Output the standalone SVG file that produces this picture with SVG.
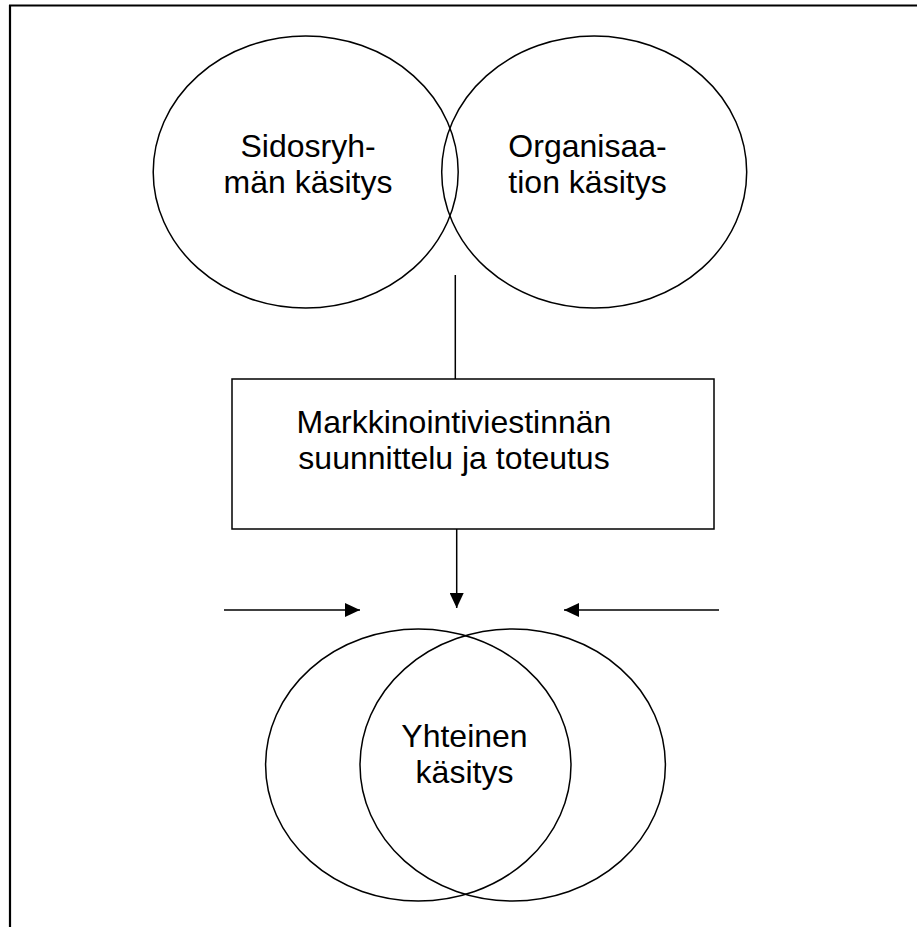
<svg xmlns="http://www.w3.org/2000/svg" width="917" height="927" viewBox="0 0 917 927">
<style>
.s{fill:none;stroke:#000;stroke-width:1.5}
.t{font-family:"Liberation Sans",Arial,sans-serif;font-size:32px;fill:#000;text-anchor:middle}
.c{stroke:#000;stroke-width:1.5;fill:none}
</style>
<defs>
<marker id="ah" markerWidth="15" markerHeight="14" refX="15" refY="7" orient="auto" markerUnits="userSpaceOnUse">
<path d="M0,0 L15,7 L0,14 Z" fill="#000"/>
</marker>
</defs>
<rect width="917" height="927" fill="#fff"/>
<g id="frame">
<path d="M9,5.5 H917 M10,5 V927" stroke="#000" stroke-width="2.2" fill="none"/>
</g>
<g id="sidosryhma">
<ellipse class="s" cx="305.7" cy="172" rx="152.5" ry="136"/>
<text class="t" x="308" y="156.5">Sidosryh-</text>
<text class="t" x="308" y="192.5">män käsitys</text>
</g>
<g id="organisaatio">
<ellipse class="s" cx="594.2" cy="172" rx="152.5" ry="136"/>
<text class="t" x="587.5" y="156.5">Organisaa-</text>
<text class="t" x="587.5" y="192.5">tion käsitys</text>
</g>
<g id="markkinointiviestinta">
<rect class="s" x="232" y="379" width="482" height="150"/>
<text class="t" x="454" y="432.7">Markkinointiviestinnän</text>
<text class="t" x="454" y="469.3">suunnittelu ja toteutus</text>
</g>
<g id="yhteinen">
<ellipse class="s" cx="418.3" cy="765" rx="152.7" ry="136"/>
<ellipse class="s" cx="512.7" cy="765" rx="152.7" ry="136"/>
<text class="t" x="464.5" y="746.5">Yhteinen</text>
<text class="t" x="464.5" y="782.7">käsitys</text>
</g>
<g id="connectors">
<line class="c" x1="455.3" y1="275" x2="455.3" y2="379"/>
<line class="c" x1="456.7" y1="529" x2="456.7" y2="608" marker-end="url(#ah)"/>
<line class="c" x1="224" y1="610" x2="360" y2="610" marker-end="url(#ah)"/>
<line class="c" x1="719" y1="610" x2="564" y2="610" marker-end="url(#ah)"/>
</g>
</svg>
